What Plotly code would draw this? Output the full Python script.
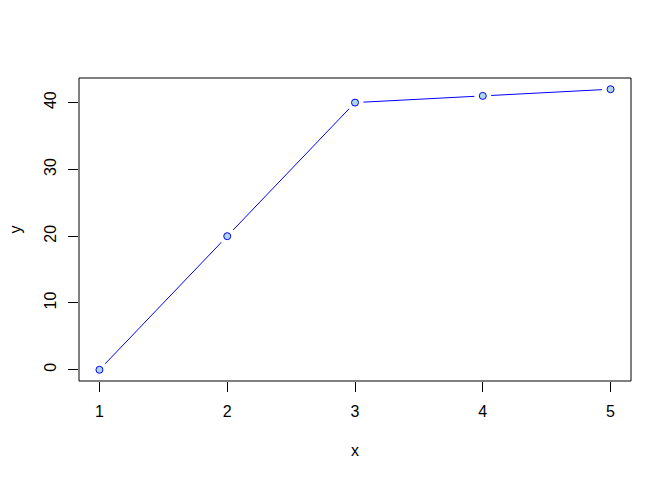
import plotly.graph_objects as go

x_vals = [1, 2, 3, 4, 5]
y_vals = [0, 20, 40, 41, 42]
x_ticks = [1, 2, 3, 4, 5]
y_ticks = [0, 10, 20, 30, 40]

fig = go.Figure()
fig.add_trace(go.Scatter(x=x_vals, y=y_vals, mode="lines",
                         line=dict(color="#0000FF", width=1), hoverinfo="skip"))
# white halo to emulate R type="b" gaps
fig.add_trace(go.Scatter(x=x_vals, y=y_vals, mode="markers",
                         marker=dict(size=17, color="white", line=dict(width=0)), hoverinfo="skip"))
fig.add_trace(go.Scatter(x=x_vals, y=y_vals, mode="markers",
                         marker=dict(size=7, color="#ADD8E6", line=dict(color="#0000FF", width=1))))

font = dict(family="Liberation Sans, Arial, sans-serif", size=16, color="black")
fig.update_layout(
    width=664, height=472, showlegend=False,
    paper_bgcolor="white", plot_bgcolor="white",
    margin=dict(l=71, r=41, t=70, b=99, autoexpand=False),
    font=font,
    xaxis=dict(range=[0.84, 5.16], tickvals=x_ticks, ticks="outside", ticklen=10,
               tickcolor="black", showgrid=False, zeroline=False, showline=False,
               automargin=False, tickfont=font, ticklabelstandoff=6),
    yaxis=dict(range=[-1.68, 43.68], tickvals=y_ticks, ticks="outside", ticklen=10,
               tickcolor="black", showgrid=False, zeroline=False, showline=False,
               automargin=False, tickangle=-90, tickfont=font, ticklabelstandoff=6),
    shapes=[dict(type="rect", xref="paper", yref="paper", x0=0, y0=0, x1=1, y1=1,
                 line=dict(color="black", width=1))],
    annotations=[
        dict(text="x", xref="paper", yref="paper", x=0.5, y=-69/303, yanchor="middle",
             xanchor="center", showarrow=False, font=font, borderpad=0),
        dict(text="y", xref="paper", yref="paper", x=-64/552, y=0.5, yanchor="middle",
             xanchor="center", showarrow=False, textangle=-90, font=font, borderpad=0),
    ],
)
fig.write_html("out.html")
